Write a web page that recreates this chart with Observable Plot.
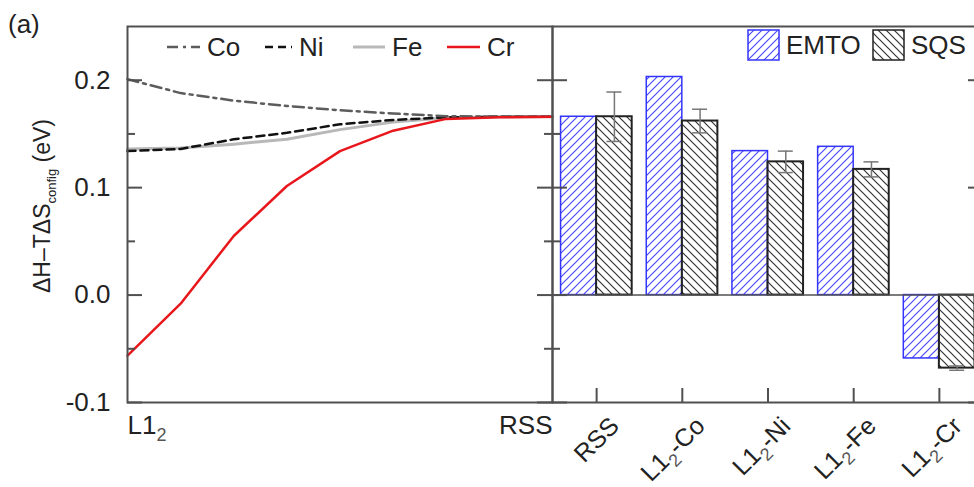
<!DOCTYPE html>
<html>
<head>
<meta charset="utf-8">
<script src="https://cdn.jsdelivr.net/npm/d3@7"></script>
<script src="https://cdn.jsdelivr.net/npm/@observablehq/plot@0.6"></script>
<style>
  body { margin: 0; background: #fff; }
  #wrap { position: relative; width: 974px; height: 487px; overflow: hidden; background: #fff; }
  #wrap > svg { position: absolute; top: 0; }
</style>
</head>
<body>
<div id="wrap"></div>
<script>
// ---------- data ----------
const pathSteps = [0, 1, 2, 3, 4, 5, 6, 7, 8];            // L1_2 (0) ... RSS (8)
const coValues = [0.201, 0.188, 0.181, 0.176, 0.172, 0.169, 0.1665, 0.166, 0.166];
const niValues = [0.134, 0.136, 0.145, 0.151, 0.159, 0.163, 0.1655, 0.166, 0.166];
const feValues = [0.136, 0.137, 0.1405, 0.145, 0.154, 0.161, 0.165, 0.166, 0.166];
const crValues = [-0.0564, -0.008, 0.055, 0.1015, 0.134, 0.153, 0.164, 0.1655, 0.166];

const categories = ["RSS", "L1₂-Co", "L1₂-Ni", "L1₂-Fe", "L1₂-Cr"];
const emtoValues = [0.166, 0.203, 0.134, 0.138, -0.059];
const sqsValues  = [0.166, 0.162, 0.124, 0.117, -0.068];
const sqsErrors  = [0.023, 0.011, 0.010, 0.007, 0.002];

const yTicksMajor = [-0.1, 0.0, 0.1, 0.2];
const yTicksMinor = [-0.05, 0.05, 0.15];
const xEndLabels = ["L1₂", "RSS"];
const xEndSteps = [0, 8];
const seriesNames = ["Co", "Ni", "Fe", "Cr"];
const methodNames = ["EMTO", "SQS"];
const yLabelMain = "ΔH–TΔS";
const yLabelSub = "config";
const yLabelUnit = " (eV)";
const panelTag = "(a)";

// ---------- layout / style ----------
const FONT = "'Liberation Sans', Arial, Helvetica, sans-serif";
const FS = 26;
const H = 487, MT = 26, MB = 85;
const yDomain = [-0.1, 0.25];
const frameColor = "#505050";
const textColor = "#222";
const styles = {
  Co: {stroke: "#5c5c5c", strokeWidth: 2.5, strokeDasharray: "11,5,3,5"},
  Ni: {stroke: "#111", strokeWidth: 2.5, strokeDasharray: "8,5"},
  Fe: {stroke: "#b8b8b8", strokeWidth: 3},
  Cr: {stroke: "#e8171c", strokeWidth: 2.5}
};
const seriesValues = {Co: coValues, Ni: niValues, Fe: feValues, Cr: crValues};
const lineData = seriesNames.flatMap(s => pathSteps.map((st, i) => ({series: s, step: st, value: seriesValues[s][i]})));
const barData = categories.map((c, i) => ({category: c, emto: emtoValues[i], sqs: sqsValues[i], err: sqsErrors[i]}));

const wrap = document.getElementById("wrap");

// ---------- left panel ----------
const L_W = 562, L_ML = 127, L_MR = 10;
const L_FW = L_W - L_ML - L_MR;   // frame width
const FH = H - MT - MB;           // frame height
const left = Plot.plot({
  width: L_W, height: H, marginLeft: L_ML, marginRight: L_MR, marginTop: MT, marginBottom: MB,
  style: {fontFamily: FONT, fontSize: FS + "px", color: textColor, background: "transparent", overflow: "visible"},
  x: {domain: [0, 8], axis: null},
  y: {domain: yDomain, axis: null},
  marks: [
    ...["Fe", "Ni", "Co", "Cr"].map(s => Plot.line(lineData.filter(d => d.series === s), {x: "step", y: "value", ...styles[s]})),
    Plot.tickY(yTicksMajor, {y: d => d, insetRight: L_FW - 15, stroke: frameColor, strokeWidth: 2}),
    Plot.tickY(yTicksMinor, {y: d => d, insetRight: L_FW - 8, stroke: frameColor, strokeWidth: 2}),
    Plot.tickY(yTicksMajor, {y: d => d, insetLeft: L_FW - 15, stroke: frameColor, strokeWidth: 2}),
    Plot.tickY(yTicksMinor, {y: d => d, insetLeft: L_FW - 8, stroke: frameColor, strokeWidth: 2}),
    Plot.frame({stroke: frameColor, strokeWidth: 2}),
    Plot.text(yTicksMajor, {y: d => d, text: d => d.toFixed(1), frameAnchor: "left", dx: -17, textAnchor: "end", fontSize: FS, fill: textColor}),
    Plot.text([xEndLabels[0]], {x: () => xEndSteps[0], text: d => d, frameAnchor: "bottom", dy: 31, lineAnchor: "bottom", textAnchor: "start", fontSize: FS, fill: textColor}),
    Plot.text([xEndLabels[1]], {x: () => xEndSteps[1], text: d => d, frameAnchor: "bottom", dy: 31, lineAnchor: "bottom", textAnchor: "end", fontSize: FS, fill: textColor})
  ]
});
left.style.left = "0px";
wrap.appendChild(left);

// ---------- right panel ----------
const R_W = 451, R_ML = 10, R_MR = 10;
const R_FW = R_W - R_ML - R_MR;
const pIn = 0.17, pOut = 0.1;
const step = R_FW / (categories.length - pIn + 2 * pOut);
const bw = step * (1 - pIn);
const half = bw / 2;
const capC = bw * 0.75, capHalf = 7.5;
const right = Plot.plot({
  width: R_W, height: H, marginLeft: R_ML, marginRight: R_MR, marginTop: MT, marginBottom: MB,
  style: {fontFamily: FONT, fontSize: FS + "px", color: textColor, background: "transparent", overflow: "visible"},
  x: {domain: categories, type: "band", paddingInner: pIn, paddingOuter: pOut, round: false, axis: null},
  y: {domain: yDomain, axis: null},
  marks: [
    Plot.barY(barData, {x: "category", y: "emto", fill: "url(#hatchEmto)", stroke: "#3434ff", strokeWidth: 1.5, insetRight: half}),
    Plot.barY(barData, {x: "category", y: "sqs", fill: "url(#hatchSqs)", stroke: "#222", strokeWidth: 2, insetLeft: half}),
    Plot.ruleY([0], {stroke: frameColor, strokeWidth: 1.5}),
    Plot.ruleX(barData, {x: "category", y1: d => d.sqs - d.err, y2: d => d.sqs + d.err, dx: bw / 4, stroke: "#777", strokeWidth: 1.5}),
    Plot.tickY(barData, {x: "category", y: d => d.sqs + d.err, insetLeft: capC - capHalf, insetRight: bw - capC - capHalf, stroke: "#777", strokeWidth: 1.5}),
    Plot.tickY(barData, {x: "category", y: d => d.sqs - d.err, insetLeft: capC - capHalf, insetRight: bw - capC - capHalf, stroke: "#777", strokeWidth: 1.5}),
    Plot.tickY(yTicksMajor, {y: d => d, insetRight: R_FW - 15, stroke: frameColor, strokeWidth: 2}),
    Plot.tickY(yTicksMinor, {y: d => d, insetRight: R_FW - 8, stroke: frameColor, strokeWidth: 2}),
    Plot.tickY(yTicksMajor, {y: d => d, insetLeft: R_FW - 15, stroke: frameColor, strokeWidth: 2}),
    Plot.tickY(yTicksMinor, {y: d => d, insetLeft: R_FW - 8, stroke: frameColor, strokeWidth: 2}),
    Plot.tickX(categories, {x: d => d, insetTop: FH - 14, stroke: frameColor, strokeWidth: 2}),
    Plot.frame({stroke: frameColor, strokeWidth: 2}),
    Plot.text(categories, {x: d => d, text: d => d, frameAnchor: "bottom", rotate: -45, textAnchor: "end", lineAnchor: "bottom", dx: 24, dy: 25, fontSize: 25, fill: textColor})
  ]
});
right.style.left = (552 - R_ML) + "px";
wrap.appendChild(right);

// ---------- subscript fix (L1₂ -> L1 with lowered small 2) ----------
function fixSubscripts(root) {
  root.querySelectorAll("text").forEach(t => {
    const s = t.textContent;
    if (!s.includes("₂")) return;
    const [a, b] = s.split("₂");
    while (t.firstChild) t.removeChild(t.firstChild);
    const ns = "http://www.w3.org/2000/svg";
    const t1 = document.createElementNS(ns, "tspan"); t1.textContent = a; t.appendChild(t1);
    const t2 = document.createElementNS(ns, "tspan"); t2.textContent = "2";
    t2.setAttribute("font-size", "18"); t2.setAttribute("dy", "7"); t2.setAttribute("fill", "#555"); t.appendChild(t2);
    if (b) { const t3 = document.createElementNS(ns, "tspan"); t3.textContent = b; t3.setAttribute("dy", "-7"); t.appendChild(t3); }
  });
}
fixSubscripts(left);
fixSubscripts(right);

// ---------- overlay: patterns, legends, labels ----------
const ov = d3.select(wrap).append("svg").attr("width", 974).attr("height", 487)
  .style("left", "0px").style("pointer-events", "none").style("font-family", FONT);
const defs = ov.append("defs");
defs.append("pattern").attr("id", "hatchEmto").attr("patternUnits", "userSpaceOnUse").attr("width", 8).attr("height", 8)
  .append("path").attr("d", "M-2,2L2,-2M0,8L8,0M6,10L10,6").attr("stroke", "#4a4aff").attr("stroke-width", 1.2);
defs.append("pattern").attr("id", "hatchSqs").attr("patternUnits", "userSpaceOnUse").attr("width", 8).attr("height", 8)
  .append("path").attr("d", "M-2,6L2,10M0,0L8,8M6,-2L10,2").attr("stroke", "#333").attr("stroke-width", 1.2);

ov.append("text").attr("x", 8).attr("y", 33).attr("font-size", FS).attr("fill", textColor).text(panelTag);

const yl = ov.append("text").attr("transform", "translate(50,206) rotate(-90)").attr("text-anchor", "middle")
  .attr("font-size", 23).attr("fill", textColor);
yl.append("tspan").text(yLabelMain);
yl.append("tspan").attr("font-size", 13).attr("dy", 6).text(yLabelSub);
yl.append("tspan").attr("dy", -6).text(yLabelUnit);

// left legend
const legX = [167, 265, 353, 447];
const legLen = [33, 27, 32, 33];
seriesNames.forEach((s, i) => {
  const st = styles[s];
  ov.append("line").attr("x1", legX[i]).attr("x2", legX[i] + legLen[i]).attr("y1", 47).attr("y2", 47)
    .attr("stroke", st.stroke).attr("stroke-width", st.strokeWidth).attr("stroke-dasharray", st.strokeDasharray || null);
  ov.append("text").attr("x", legX[i] + legLen[i] + 7).attr("y", 56).attr("font-size", FS).attr("fill", textColor).text(s);
});

// right legend
const patchX = [748, 873];
const patchFill = ["url(#hatchEmto)", "url(#hatchSqs)"];
const patchStroke = ["#3434ff", "#222"];
methodNames.forEach((m, i) => {
  ov.append("rect").attr("x", patchX[i]).attr("y", 30).attr("width", 31).attr("height", 30)
    .attr("fill", patchFill[i]).attr("stroke", patchStroke[i]).attr("stroke-width", 1.5);
  ov.append("text").attr("x", patchX[i] + 38).attr("y", 54).attr("font-size", FS).attr("fill", textColor).text(m);
});
</script>
</body>
</html>
